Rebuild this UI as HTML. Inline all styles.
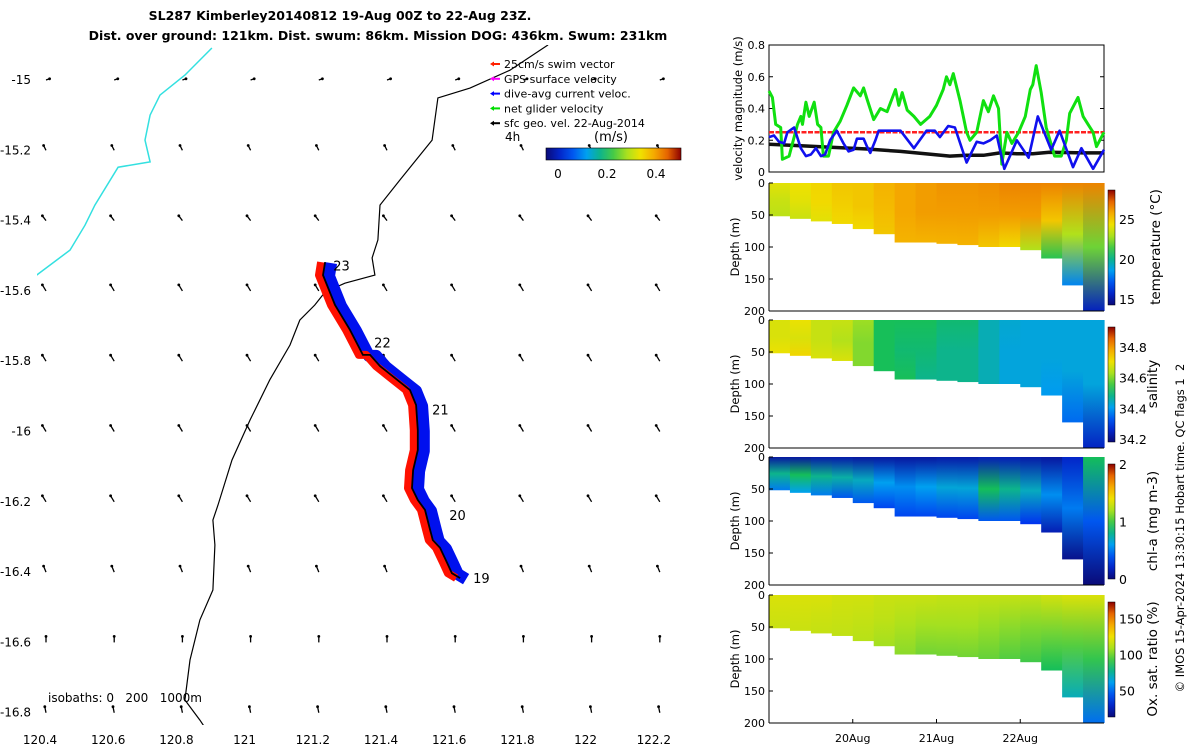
<!DOCTYPE html>
<html><head><meta charset="utf-8"><style>
body{margin:0;background:#fff;}
svg{font-family:"DejaVu Sans","Liberation Sans",sans-serif;display:block}
</style></head><body>
<svg id="s" width="1200" height="750" xmlns="http://www.w3.org/2000/svg">
<g id="title" font-weight="bold" font-size="12.5" text-anchor="middle">
<text x="340" y="20">SL287 Kimberley20140812 19-Aug 00Z to 22-Aug 23Z.</text>
<text x="378" y="40">Dist. over ground: 121km. Dist. swum: 86km. Mission DOG: 436km. Swum: 231km</text>
</g>
<g id="map"></g>
<g id="right"></g>
<text transform="translate(1184,528) rotate(-90)" text-anchor="middle" font-size="11.5" style="white-space:pre">© IMOS 15-Apr-2024 13:30:15 Hobart time. QC flags 1  2</text>
</svg>
<script>
// ---------- map data ----------
const lonTicks=[120.4,120.6,120.8,121,121.2,121.4,121.6,121.8,122,122.2];
const latTicks=[-15,-15.2,-15.4,-15.6,-15.8,-16,-16.2,-16.4,-16.6,-16.8];
const coastLon=[121.890,121.778,121.661,121.567,121.550,121.456,121.397,121.391,121.374,121.382,121.294,121.236,121.206,121.162,121.133,121.074,121.016,120.963,120.922,120.907,120.913,120.907,120.869,120.840,120.825,120.869,120.928];
const coastLat=[-14.900,-14.972,-15.023,-15.051,-15.171,-15.284,-15.356,-15.455,-15.506,-15.555,-15.578,-15.603,-15.640,-15.683,-15.754,-15.853,-15.967,-16.081,-16.209,-16.252,-16.323,-16.451,-16.536,-16.650,-16.764,-16.821,-16.906];
const isoLon=[120.904,120.825,120.752,120.723,120.708,120.723,120.629,120.561,120.532,120.488,120.39];
const isoLat=[-14.909,-14.986,-15.043,-15.100,-15.171,-15.233,-15.248,-15.356,-15.413,-15.484,-15.555];
const trackLon=[121.632,121.608,121.594,121.573,121.552,121.544,121.529,121.508,121.491,121.494,121.508,121.508,121.503,121.485,121.441,121.397,121.368,121.347,121.309,121.265,121.230,121.236];
const trackLat=[-16.417,-16.403,-16.374,-16.331,-16.309,-16.280,-16.223,-16.195,-16.161,-16.110,-16.053,-15.996,-15.925,-15.882,-15.848,-15.814,-15.782,-15.782,-15.711,-15.640,-15.555,-15.518];
const dayLabels=['19','20','21','22','23'];
const dayLon=[121.67,121.60,121.55,121.38,121.26];
const dayLat=[-16.42,-16.24,-15.94,-15.75,-15.53];
const arrowU=[0.03,-0.02,-0.03,-0.03,-0.03,-0.03,-0.03,-0.02,0.0,-0.01];
const arrowV=[0.01,0.04,0.04,0.05,0.05,0.05,0.05,0.05,0.05,0.05];
// ---------- velocity data ----------
const gT=[0,.04,.08,.14,.16,.24,.34,.38,.40,.44,.48,.54,.58,.62,.65,.71,.77,.85,.93,1.01,1.09,1.13,1.17,1.25,1.33,1.41,1.51,1.55,1.59,1.65,1.73,1.81,1.92,2.0,2.08,2.12,2.16,2.2,2.28,2.36,2.4,2.48,2.56,2.62,2.68,2.74,2.78,2.84,2.9,2.98,3.06,3.12,3.15,3.19,3.25,3.31,3.41,3.49,3.55,3.59,3.69,3.75,3.81,3.87,3.91,4.0];
const gV=[.51,.47,.3,.28,.08,.1,.3,.35,.3,.44,.35,.44,.3,.28,.1,.1,.25,.32,.42,.53,.48,.53,.46,.33,.4,.38,.52,.42,.5,.39,.35,.3,.35,.42,.52,.6,.55,.62,.45,.25,.2,.25,.45,.38,.48,.4,.05,.25,.18,.25,.35,.52,.55,.67,.5,.28,.1,.1,.2,.37,.47,.35,.3,.25,.16,.25];
const bT=[0,.06,.12,.18,.22,.3,.38,.44,.5,.56,.62,.67,.73,.81,.89,.95,1.01,1.05,1.13,1.17,1.21,1.27,1.31,1.49,1.57,1.73,1.88,1.98,2.04,2.14,2.22,2.36,2.48,2.56,2.64,2.72,2.81,2.96,3.1,3.21,3.37,3.47,3.63,3.73,3.87,4];
const bV=[.22,.23,.19,.18,.25,.28,.15,.1,.11,.15,.1,.11,.2,.26,.18,.13,.14,.21,.21,.16,.12,.2,.26,.26,.26,.15,.26,.26,.22,.29,.28,.06,.19,.18,.2,.23,.02,.2,.09,.35,.14,.26,.03,.15,.02,.14];
const kT=[0,.38,.77,1.17,1.57,1.96,2.16,2.36,2.56,2.76,2.96,3.15,3.35,3.75,4];
const kV=[.175,.165,.155,.145,.13,.11,.1,.105,.105,.12,.115,.115,.125,.12,.12];
const swimV=[.25,.25];
const velTicks=[0,0.2,0.4,0.6,0.8];
// ---------- section data ----------
const secT=[0,.25,.5,.75,1,1.25,1.5,1.75,2,2.25,2.5,2.75,3,3.25,3.5,3.75,4];
const bottomDepth=[52,56,60,64,72,80,93,93,95,97,100,100,105,118,160,200,200];
const tempTop=[24,24.3,24.6,25,25,25.5,25.8,26,26.2,26.2,26.3,26.5,26.5,26.5,26.5,26.5,26.5];
const tempMid=[23.5,24,24.5,24.8,25,25.3,25.8,26,26,26,26,26,26,25,23,22,22];
const tempBot=[23.2,23.5,24,24.5,24.5,25,25.5,25.5,25.5,25.5,25,24.5,23,21,18,15.5,16];
const salTop=[34.68,34.7,34.66,34.66,34.62,34.52,34.52,34.52,34.5,34.5,34.45,34.43,34.42,34.42,34.42,34.42,34.42];
const salMid=[34.68,34.68,34.66,34.64,34.6,34.52,34.5,34.5,34.48,34.48,34.45,34.42,34.42,34.42,34.42,34.42,34.42];
const salBot=[34.7,34.72,34.68,34.68,34.6,34.52,34.52,34.48,34.48,34.48,34.45,34.42,34.42,34.4,34.35,34.25,34.25];
const chlTop=[.1,.1,.12,.12,.1,.1,.1,.1,.12,.12,.15,.15,.12,.1,.2,.9,1.0];
const chlMid=[.8,.9,.8,.75,.7,.6,.55,.6,.65,.65,.9,.8,.7,.55,.5,.4,.4];
const chlBot=[.5,.6,.5,.4,.4,.35,.35,.35,.35,.35,.4,.4,.3,.15,.05,0,0];
const oxTop=[120,120,120,118,118,116,116,116,115,115,115,115,115,118,120,120,120];
const oxMid=[118,118,117,116,115,113,110,108,108,108,106,104,102,100,95,90,90];
const oxBot=[116,116,115,114,112,108,104,100,100,100,98,95,92,85,70,50,45];
const depthTicks=[0,50,100,150,200];
const dateTicks=[1,2,3];
const dateLabels=['20Aug','21Aug','22Aug'];

const NS='http://www.w3.org/2000/svg';
function mk(tag,attrs,parent){const e=document.createElementNS(NS,tag);for(const k in attrs)e.setAttribute(k,attrs[k]);parent.appendChild(e);return e;}
const map=document.getElementById('map'), right=document.getElementById('right');
const X=lon=>40+(lon-120.4)/0.2*68.2;
const Y=lat=>80+(-15-lat)/0.2*70.3;
function cmap(f){f=Math.max(0,Math.min(1,f));
 const st=[[0,[10,10,120]],[0.15,[0,50,240]],[0.3,[0,160,240]],[0.45,[20,190,90]],[0.6,[170,225,30]],[0.7,[240,225,0]],[0.8,[245,170,0]],[0.9,[230,100,0]],[1,[140,0,0]]];
 for(let i=1;i<st.length;i++){if(f<=st[i][0]){const a=st[i-1],b=st[i],r=(f-a[0])/(b[0]-a[0]);const c=a[1].map((v,j)=>Math.round(v+(b[1][j]-v)*r));return `rgb(${c})`;}}return 'rgb(140,0,0)';}
const defs=mk('defs',{},document.getElementById('s'));
const cp=mk('clipPath',{id:'mapclip'},defs);mk('rect',{x:37,y:45,width:670,height:680},cp);
let e;
lonTicks.forEach(l=>{
 e=mk('text',{x:X(l),y:744,'text-anchor':'middle','font-size':12},map);e.textContent=String(l);
 
});
latTicks.forEach(l=>{
 e=mk('text',{x:31,y:Y(l)+4,'text-anchor':'end','font-size':12},map);e.textContent=String(l);
 
});
const mg=mk('g',{'clip-path':'url(#mapclip)'},map);
function pts(lo,la,dx=0,dy=0){return lo.map((v,i)=>(X(v)+dx).toFixed(1)+','+(Y(la[i])+dy).toFixed(1)).join(' ');}
e=mk('polyline',{points:pts(coastLon,coastLat),fill:'none',stroke:'#000','stroke-width':1.2},mg);

e=mk('polyline',{points:pts(isoLon,isoLat),fill:'none',stroke:'#33e0e0','stroke-width':1.5},mg);

latTicks.forEach((la,r)=>{lonTicks.forEach(lo=>{
 const x=X(lo)+6,y=Y(la),dx=arrowU[r]*120,dy=-arrowV[r]*120;
 e=mk('line',{x1:x,y1:y,x2:x+dx,y2:y+dy,stroke:'#000','stroke-width':1.3},mg);
 
 mk('circle',{cx:x+dx,cy:y+dy,r:1.4,fill:'#000'},mg);
});});
e=mk('polyline',{points:pts(trackLon,trackLat,6,1),fill:'none',stroke:'#0010ee','stroke-width':12,'stroke-linejoin':'round'},mg);

e=mk('polyline',{points:pts(trackLon,trackLat,-4,0),fill:'none',stroke:'#ff1000','stroke-width':8,'stroke-linejoin':'round'},mg);

e=mk('polyline',{points:pts(trackLon,trackLat),fill:'none',stroke:'#000','stroke-width':1.8},mg);

dayLabels.forEach((d,i)=>{e=mk('text',{x:X(dayLon[i]),y:Y(dayLat[i])+4,'font-size':13},mg);e.textContent=d;
 });
e=mk('text',{x:48,y:702,'font-size':12,style:'white-space:pre'},map);e.textContent='isobaths: 0   200   1000m';

const leg=[['25cm/s swim vector','#ff2000'],['GPS surface velocity','#ff00ff'],['dive-avg current veloc.','#0000ff'],['net glider velocity','#00dd00'],['sfc geo. vel. 22-Aug-2014','#000']];
leg.forEach((l,i)=>{const y=64+i*14.8;
 mk('line',{x1:492,x2:500,y1:y,y2:y,stroke:l[1],'stroke-width':2},map);
 mk('polygon',{points:`${490},${y} ${494},${y-2.5} ${494},${y+2.5}`,fill:l[1]},map);
 e=mk('text',{x:504,y:y+4,'font-size':11},map);e.textContent=l[0];
 });
e=mk('text',{x:505,y:141,'font-size':12},map);e.textContent='4h';

e=mk('text',{x:611,y:141,'font-size':13,'text-anchor':'middle'},map);e.textContent='(m/s)';

const gr=mk('linearGradient',{id:'cbh',x1:0,x2:1,y1:0,y2:0},defs);
for(let i=0;i<=10;i++)mk('stop',{offset:i/10,'stop-color':cmap(i/10)},gr);
e=mk('rect',{x:546,y:148,width:135,height:12,fill:'url(#cbh)',stroke:'#000','stroke-width':0.6},map);

[['0',558],['0.2',607],['0.4',656]].forEach(t=>{e=mk('text',{x:t[1],y:178,'font-size':12,'text-anchor':'middle'},map);e.textContent=t[0];
 });

// ---------- right panels ----------
const L=769,R=1104;
const TX=t=>L+t*(R-L)/4;
const vT=45,vB=172,VY=v=>vB-v/0.8*(vB-vT);
e=mk('rect',{x:L,y:vT,width:R-L,height:vB-vT,fill:'#fff',stroke:'#000','stroke-width':1},right);

velTicks.forEach(v=>{e=mk('text',{x:L-4,y:VY(v)+4,'text-anchor':'end','font-size':11},right);e.textContent=String(v);
 
 mk('line',{x1:L,x2:L+4,y1:VY(v),y2:VY(v),stroke:'#000'},right);mk('line',{x1:R,x2:R-4,y1:VY(v),y2:VY(v),stroke:'#000'},right);});
e=mk('text',{transform:`translate(742,${(vT+vB)/2}) rotate(-90)`,'text-anchor':'middle','font-size':11.5},right);e.textContent='velocity magnitude (m/s)';

function line(T,V,col,w,dash){const p=T.map((t,i)=>TX(t).toFixed(1)+','+VY(V[i]).toFixed(1)).join(' ');
 const el=mk('polyline',{points:p,fill:'none',stroke:col,'stroke-width':w,'stroke-linejoin':'round'},right);if(dash)el.setAttribute('stroke-dasharray',dash);return el;}
e=line([0,4],swimV,'#ff2020',2.5,"5 1.5");
e=line(kT,kV,'#111',3.5);
e=line(gT,gV,'#10e010',3);
e=line(bT,bV,'#1010ee',2.6);

const panels=[
 {top:183,name:'temperature',tp:tempTop,md:tempMid,bt:tempBot,min:14.25,max:28.6,ticks:[15,20,25],title:'temperature (°C)'},
 {top:320,name:'salinity',tp:salTop,md:salMid,bt:salBot,min:34.18,max:34.93,ticks:[34.2,34.4,34.6,34.8],title:'salinity'},
 {top:457,name:'chl-a',tp:chlTop,md:chlMid,bt:chlBot,min:0,max:2,ticks:[0,1,2],title:'chl-a (mg m-3)'},
 {top:595,name:'oxygen',tp:oxTop,md:oxMid,bt:oxBot,min:13,max:173,ticks:[50,100,150],title:'Ox. sat. ratio (%)'}];
panels.forEach((p,pi)=>{
 const H=128,DY=d=>p.top+d/200*H;
 const g=mk('g',{},right);
 
 for(let i=0;i<secT.length-1;i++){
  const id='g'+pi+'_'+i;const lg=mk('linearGradient',{id:id,x1:0,x2:0,y1:0,y2:1},defs);
  mk('stop',{offset:0,'stop-color':cmap((p.tp[i]-p.min)/(p.max-p.min))},lg);
  mk('stop',{offset:0.5,'stop-color':cmap((p.md[i]-p.min)/(p.max-p.min))},lg);
  mk('stop',{offset:1,'stop-color':cmap((p.bt[i]-p.min)/(p.max-p.min))},lg);
  e=mk('rect',{x:TX(secT[i]),y:p.top,width:TX(secT[i+1])-TX(secT[i])+0.6,height:DY(bottomDepth[i])-p.top,fill:`url(#${id})`},g);
  
 }
 mk('line',{x1:L,x2:L,y1:p.top,y2:p.top+H,stroke:'#000'},right);
 mk('line',{x1:L,x2:R,y1:p.top+H,y2:p.top+H,stroke:'#000'},right);
 depthTicks.forEach(d=>{e=mk('text',{x:L-4,y:DY(d)+4,'text-anchor':'end','font-size':11},right);e.textContent=String(d);
  
  mk('line',{x1:L,x2:L+4,y1:DY(d),y2:DY(d),stroke:'#000'},right);});
 e=mk('text',{transform:`translate(739,${p.top+H/2}) rotate(-90)`,'text-anchor':'middle','font-size':11.5},right);e.textContent='Depth (m)';
 
 const cT=p.top+7,cB=p.top+H-6;
 const cg=mk('linearGradient',{id:'cb'+pi,x1:0,x2:0,y1:1,y2:0},defs);
 for(let k=0;k<=10;k++)mk('stop',{offset:k/10,'stop-color':cmap(k/10)},cg);
 e=mk('rect',{x:1108,y:cT,width:7,height:cB-cT,fill:`url(#cb${pi})`,stroke:'#000','stroke-width':0.5},right);
 
 const CY=v=>cB-(v-p.min)/(p.max-p.min)*(cB-cT);
 p.ticks.forEach(t=>{e=mk('text',{x:1119,y:CY(t)+5,'font-size':12.5},right);e.textContent=String(t);
  });
 e=mk('text',{transform:`translate(${pi==0?1160:1157},${p.top+H/2}) rotate(-90)`,'text-anchor':'middle','font-size':13.5},right);e.textContent=p.title;
 
});
dateTicks.forEach((d,i)=>{e=mk('text',{x:TX(d),y:742,'text-anchor':'middle','font-size':11},right);e.textContent=dateLabels[i];
 
 mk('line',{x1:TX(d),x2:TX(d),y1:723,y2:719,stroke:'#000'},right);});
</script>
</body></html>
